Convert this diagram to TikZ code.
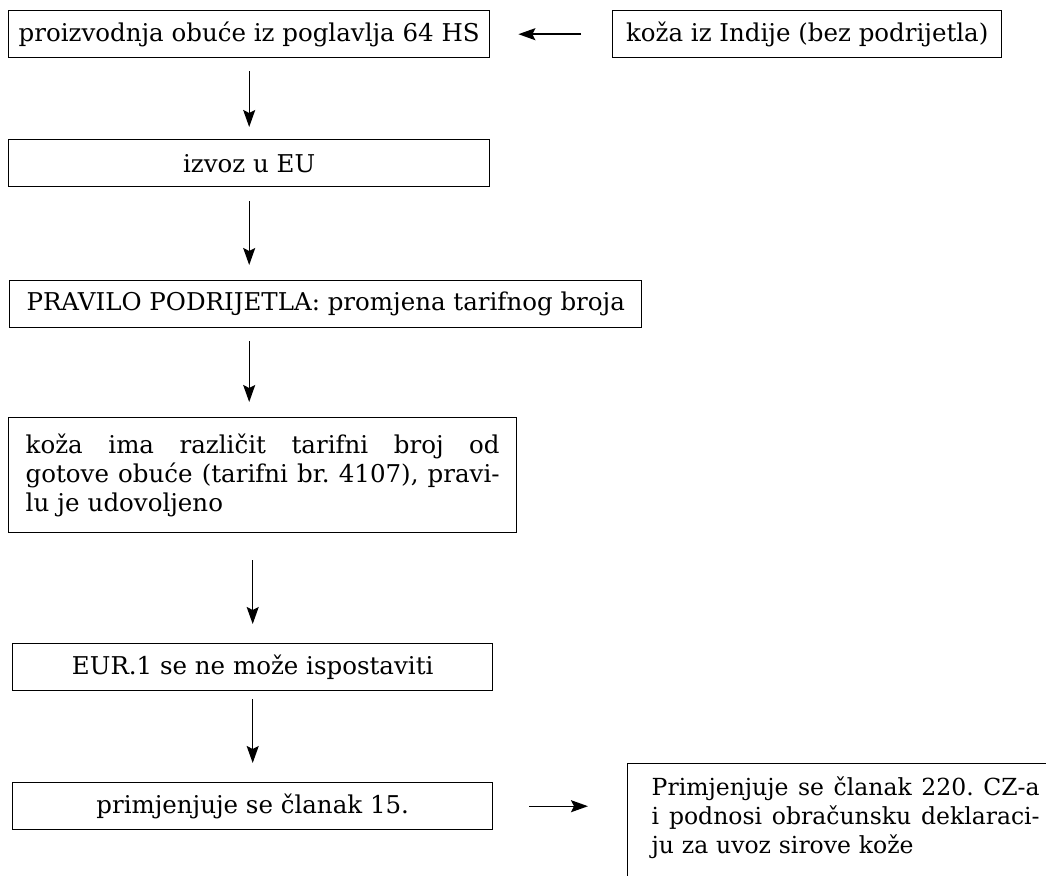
\documentclass[tikz,border=0pt]{standalone}
\usepackage{fontspec}
\setmainfont{DejaVu Serif}
\usetikzlibrary{arrows.meta,calc}
\newcommand{\jline}[2]{\leavevmode\hbox to #1{\spaceskip=0.25em plus 1fil minus 0.1em\relax #2}}
\begin{document}
\begin{tikzpicture}[x=1pt,y=-1pt,
  box/.style={draw,line width=1.4pt,anchor=north west,inner sep=0pt,align=center,
    font=\fontsize{24.5}{29}\selectfont\frenchspacing},
  arr/.style={line width=1.4pt,-{Stealth[length=17pt,width=12pt,inset=3pt]}}]
\useasboundingbox (0,0) rectangle (1046,875);
\clip (0,0) rectangle (1046,875);
\node[box,minimum width=481pt,minimum height=47pt] (b1) at (8,10) {proizvodnja obuće iz poglavlja 64 HS};
\node[box,minimum width=389pt,minimum height=47pt] (b2) at (612,10) {koža iz Indije (bez podrijetla)};
\node[box,minimum width=481pt,minimum height=47pt] (b3) at (8,139) {izvoz u EU};
\node[box,minimum width=632pt,minimum height=47pt] (b4) at (9,280) {PRAVILO PODRIJETLA: promjena tarifnog broja};
\node[box,minimum height=115pt,text width=474pt,inner xsep=17pt,align=left] (b5) at (8,417)
  {\jline{474pt}{koža ima različit tarifni broj od}\\
   \jline{474pt}{gotove obuće (tarifni br. 4107), pravi-}\\
   lu je udovoljeno};
\node[box,minimum width=480pt,minimum height=47pt] (b6) at (12,643) {EUR.1 se ne može ispostaviti};
\node[box,minimum width=480pt,minimum height=47pt] (b7) at (12,782) {primjenjuje se članak 15.};
\node[box,text width=388pt,inner xsep=24pt,inner ysep=13pt,align=left,
  font=\fontsize{23.5}{29}\selectfont\frenchspacing] (b8) at (627,763)
  {\jline{388pt}{Primjenjuje se članak 220. CZ-a}\\
   \jline{388pt}{i podnosi obračunsku deklaraci-}\\
   ju za uvoz sirove kože\\
   \rule{0pt}{30pt}};
\draw[arr,shorten <=31pt,shorten >=28pt] (b2.west) -- (b1.east);
\draw[arr,shorten <=13pt,shorten >=12pt] (b1.south) -- (b3.north);
\draw[arr,shorten <=14pt,shorten >=15pt] (b3.south) -- (b3.south |- b4.north);
\draw[arr,shorten <=13pt,shorten >=15pt] (b3.south |- b4.south) -- (b3.south |- b5.north);
\draw[arr,shorten <=27pt,shorten >=19pt] (b6.north |- b5.south) -- (b6.north);
\draw[arr,shorten <=8pt,shorten >=19pt] (b6.south) -- (b7.north);
\draw[arr,shorten <=36pt,shorten >=39pt] (b7.east) -- (b7.east -| b8.west);
\end{tikzpicture}
\end{document}
